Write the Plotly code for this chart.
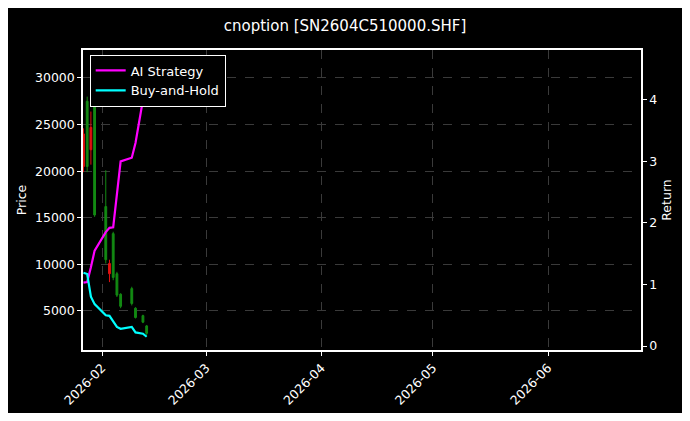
import plotly.graph_objects as go

dates = ["2026-01-27", "2026-01-28", "2026-01-29", "2026-01-30", "2026-02-02", "2026-02-03",
         "2026-02-04", "2026-02-05", "2026-02-06", "2026-02-09", "2026-02-10", "2026-02-12", "2026-02-13"]
open_ = [20500, 27500, 22300, 28000, 16200, 9000, 13300, 9000, 6800, 7400, 5300, 4500, 3400]
close = [24000, 20500, 24700, 15300, 10500, 10100, 8600, 6700, 5500, 5800, 4300, 3800, 2600]
high = [24600, 28000, 26400, 28500, 20100, 10500, 13500, 9200, 6900, 7600, 5400, 4600, 3500]
low = [19900, 19900, 20700, 15100, 10100, 8100, 8300, 6500, 5300, 5600, 4200, 3700, 2400]
ai_return = [1.03, 1.04, 1.28, 1.55, 1.85, 1.92, 1.93, 2.5, 3.0, 3.06, 3.3, 4.0, 4.45]
bh_return = [1.19, 1.17, 0.8, 0.68, 0.5, 0.49, 0.4, 0.31, 0.28, 0.31, 0.22, 0.2, 0.15]
price_ticks = [5000, 10000, 15000, 20000, 25000, 30000]

fig = go.Figure()
fig.add_trace(go.Candlestick(
    x=dates, open=open_, high=high, low=low, close=close,
    increasing=dict(line=dict(color='#e01010', width=1), fillcolor='#e01010'),
    decreasing=dict(line=dict(color='#138a13', width=1), fillcolor='#138a13'),
    whiskerwidth=0, showlegend=False
))
fig.add_trace(go.Scatter(x=dates, y=ai_return, name='AI Strategy', yaxis='y2',
                         mode='lines', line=dict(color='#ff00ff', width=2.2)))
fig.add_trace(go.Scatter(x=dates, y=bh_return, name='Buy-and-Hold', yaxis='y2',
                         mode='lines', line=dict(color='#00ffff', width=2.2)))

axis_font = dict(family='DejaVu Sans', size=12.5, color='white')
grid = dict(showgrid=True, gridcolor='#3a3a3a', griddash='dash', gridwidth=0.5)
fig.update_layout(
    width=674, height=405,
    paper_bgcolor='#000000', plot_bgcolor='#000000',
    font=dict(family='DejaVu Sans', size=12, color='white'),
    title=dict(text='cnoption [SN2604C510000.SHF]', x=0.5, xanchor='center', y=0.97,
               font=dict(size=15, color='white')),
    margin=dict(l=75, r=41, t=42, b=63, autoexpand=False),
    legend=dict(x=0.012, y=0.985, xanchor='left', yanchor='top', bgcolor='#000000',
                bordercolor='white', borderwidth=1, font=dict(size=13, color='white')),
    xaxis=dict(
        type='date', range=['2026-01-26 21:00', '2026-06-26'], automargin=False,
        rangeslider=dict(visible=False),
        tickvals=['2026-02-01', '2026-03-01', '2026-04-01', '2026-05-01', '2026-06-01'],
        ticktext=['2026-02', '2026-03', '2026-04', '2026-05', '2026-06'],
        tickangle=-45, ticks='outside', ticklen=4, tickcolor='white', tickfont=axis_font,
        showline=True, linecolor='white', linewidth=1.5, mirror=True, zeroline=False, **grid
    ),
    yaxis=dict(
        title=dict(text='Price', font=axis_font, standoff=6), range=[815, 33000], automargin=False,
        tickvals=price_ticks, ticktext=[str(v) for v in price_ticks],
        ticks='outside', ticklen=4, tickcolor='white', tickfont=axis_font,
        showline=True, linecolor='white', linewidth=1.5, mirror=True, zeroline=False, **grid
    ),
    yaxis2=dict(
        title=dict(text='Return', font=axis_font, standoff=6), range=[-0.065, 4.81],
        overlaying='y', side='right', tickvals=[0, 1, 2, 3, 4], automargin=False,
        ticks='outside', ticklen=4, tickcolor='white', tickfont=axis_font,
        showgrid=False, zeroline=False, showline=True, linecolor='white', linewidth=1.5
    ),
)

fig.write_html("out.html")
